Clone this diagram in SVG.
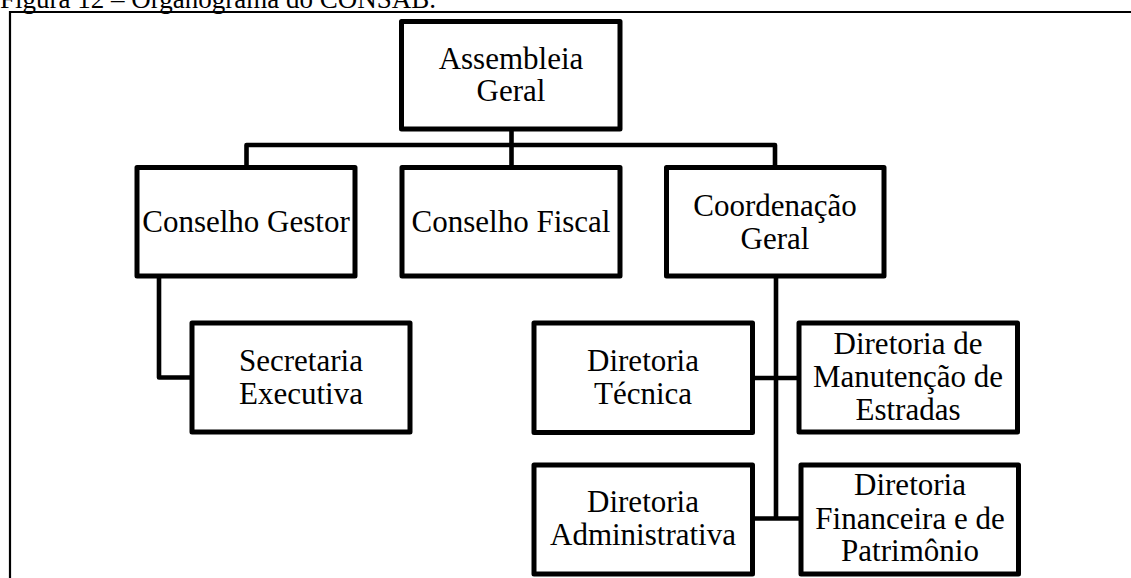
<svg xmlns="http://www.w3.org/2000/svg" width="1131" height="578" viewBox="0 0 1131 578">
<style>
.box{fill:#fff;stroke:#000;stroke-width:5;stroke-linejoin:round}
.lbl{font-family:"Liberation Serif","Times New Roman",serif;font-size:31px;fill:#000;text-anchor:middle}
.con{fill:none;stroke:#000;stroke-width:4.6;stroke-linejoin:round}
.title{font-family:"Liberation Serif","Times New Roman",serif;font-size:27px;fill:#000}
.frame{fill:none;stroke:#000;stroke-width:2.2}
</style>
<rect width="1131" height="578" fill="#fff"/>
<text class="title" x="0" y="8">Figura 12 – Organograma do CONSAB.</text>
<path class="frame" d="M10,580 V12 H1133"/>
<g id="connectors">
<path class="con" d="M511.5,129 V145"/>
<path class="con" d="M246.5,167.5 V145 H775 V167.5"/>
<path class="con" d="M511.5,145 V167.5"/>
<path class="con" d="M159,276 V377.5 H192"/>
<path class="con" d="M776,276 V518.5"/>
<path class="con" d="M752.5,378 H799"/>
<path class="con" d="M752.5,518.5 H801"/>
</g>
<g id="assembleia">
<rect class="box" x="401.5" y="21.5" width="218.5" height="107.5"/>
<text class="lbl" x="511" y="68.5">Assembleia</text>
<text class="lbl" x="511" y="101">Geral</text>
</g>
<g id="conselho-gestor">
<rect class="box" x="137" y="167.5" width="218" height="108.5"/>
<text class="lbl" x="246" y="231.5">Conselho Gestor</text>
</g>
<g id="conselho-fiscal">
<rect class="box" x="402" y="167.5" width="218" height="108.5"/>
<text class="lbl" x="511" y="231.5">Conselho Fiscal</text>
</g>
<g id="coordenacao-geral">
<rect class="box" x="666.5" y="167.5" width="217.5" height="108.5"/>
<text class="lbl" x="775" y="216">Coordenação</text>
<text class="lbl" x="775" y="248.5">Geral</text>
</g>
<g id="secretaria-executiva">
<rect class="box" x="192" y="323" width="218" height="109"/>
<text class="lbl" x="301" y="371">Secretaria</text>
<text class="lbl" x="301" y="403.5">Executiva</text>
</g>
<g id="diretoria-tecnica">
<rect class="box" x="534" y="323" width="218.5" height="109.5"/>
<text class="lbl" x="643" y="371">Diretoria</text>
<text class="lbl" x="643" y="403.5">Técnica</text>
</g>
<g id="diretoria-manutencao">
<rect class="box" x="799" y="323" width="218.5" height="109"/>
<text class="lbl" x="908" y="353.5">Diretoria de</text>
<text class="lbl" x="908" y="387">Manutenção de</text>
<text class="lbl" x="908" y="420">Estradas</text>
</g>
<g id="diretoria-administrativa">
<rect class="box" x="534" y="465" width="218.5" height="109"/>
<text class="lbl" x="643" y="512">Diretoria</text>
<text class="lbl" x="643" y="545">Administrativa</text>
</g>
<g id="diretoria-financeira">
<rect class="box" x="801" y="465" width="217.5" height="109"/>
<text class="lbl" x="910" y="495">Diretoria</text>
<text class="lbl" x="910" y="528.5">Financeira e de</text>
<text class="lbl" x="910" y="561">Patrimônio</text>
</g>
</svg>
